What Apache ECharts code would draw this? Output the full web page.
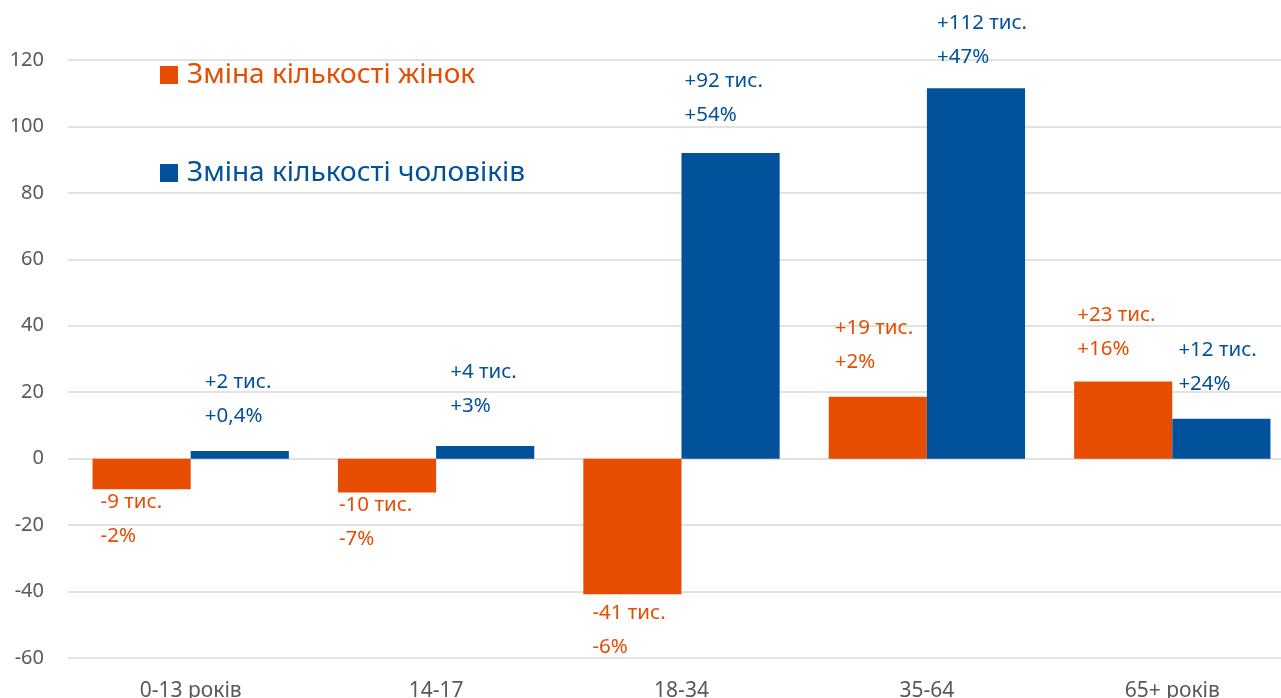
<!DOCTYPE html>
<html>
<head>
<meta charset="utf-8">
<script src="https://cdn.jsdelivr.net/npm/echarts@6/dist/echarts.min.js"></script>
<style>
  html, body { margin: 0; padding: 0; background: #fff; }
  #chart { width: 1281px; height: 698px; }
</style>
</head>
<body>
<div id="chart"></div>
<script>
  // вікові групи
  const categories = ['0-13 років', '14-17', '18-34', '35-64', '65+ років']
  // зміна кількості, тис.
  const womenValues = [-9.2, -10.2, -40.8, 18.6, 23.2]
  const menValues = [2.3, 3.8, 92, 111.5, 12]
  // підписи
  const womenAbs = ['-9 тис.', '-10 тис.', '-41 тис.', '+19 тис.', '+23 тис.']
  const womenPct = ['-2%', '-7%', '-6%', '+2%', '+16%']
  const menAbs = ['+2 тис.', '+4 тис.', '+92 тис.', '+112 тис.', '+12 тис.']
  const menPct = ['+0,4%', '+3%', '+54%', '+47%', '+24%']
  const yTicks = { min: -60, max: 120, interval: 20 }

  // зсув підписів від лівого краю стовпчика (як у вихідному малюнку)
  const womenLabelDx = [8, 1, 9, 6, 3]
  const womenLabelDy = [0, 0, 6, 0, 3]
  const menLabelDx = [14, 14, 3, 10, 6]
  const menLabelDy = [0, -5, -3, 4, 0]

  const ORANGE = '#E64D00'
  const BLUE = '#01519B'
  const FONT = '"Noto Sans", sans-serif'
  const HALF_BAR = 49

  function barData (values, dx, dy) {
    return values.map(function (v, i) {
      return {
        value: v,
        label: {
          position: v < 0 ? 'bottom' : 'top',
          distance: v < 0 ? -4 : 18,
          offset: [dx[i] - HALF_BAR, dy[i]]
        }
      }
    })
  }

  function labelFor (abs, pct, color) {
    return {
      show: true,
      align: 'left',
      color: color,
      fontFamily: FONT,
      fontSize: 20.5,
      lineHeight: 34,
      formatter: function (p) {
        return abs[p.dataIndex] + '\n' + pct[p.dataIndex]
      }
    }
  }

  let myChart = echarts.init(document.getElementById('chart'))
  myChart.setOption({
    animation: false,
    textStyle: { fontFamily: FONT },
    legend: {
      orient: 'vertical',
      left: 160,
      top: 61,
      padding: 0,
      itemWidth: 18,
      itemHeight: 18,
      itemGap: 70,
      icon: 'rect',
      selectedMode: false,
      textStyle: { fontSize: 28, lineHeight: 28, fontFamily: FONT, padding: [0, 0, 0, 4] },
      data: [
        { name: 'Зміна кількості жінок', textStyle: { color: ORANGE } },
        { name: 'Зміна кількості чоловіків', textStyle: { color: BLUE } }
      ]
    },
    grid: {
      left: 68,
      width: 1227,
      top: 60,
      bottom: 40,
      containLabel: false,
      outerBoundsMode: 'none'
    },
    xAxis: {
      type: 'category',
      data: categories,
      axisLine: { show: false, onZero: false },
      axisTick: { show: false },
      axisLabel: { color: '#595959', fontSize: 21, margin: 23, fontFamily: FONT }
    },
    yAxis: {
      type: 'value',
      min: yTicks.min,
      max: yTicks.max,
      interval: yTicks.interval,
      axisLine: { show: false },
      axisTick: { show: false },
      axisLabel: { color: '#595959', fontSize: 20, margin: 24, fontFamily: FONT },
      splitLine: { lineStyle: { color: '#D9D9D9', width: 1.5 } }
    },
    series: [
      {
        name: 'Зміна кількості жінок',
        type: 'bar',
        data: barData(womenValues, womenLabelDx, womenLabelDy),
        itemStyle: { color: ORANGE },
        barGap: '0%',
        barCategoryGap: '20%',
        label: labelFor(womenAbs, womenPct, ORANGE)
      },
      {
        name: 'Зміна кількості чоловіків',
        type: 'bar',
        data: barData(menValues, menLabelDx, menLabelDy),
        itemStyle: { color: BLUE },
        barGap: '0%',
        barCategoryGap: '20%',
        label: labelFor(menAbs, menPct, BLUE)
      }
    ]
  })
  window.addEventListener('resize', function () {
    myChart.resize()
  })
</script>
</body>
</html>
